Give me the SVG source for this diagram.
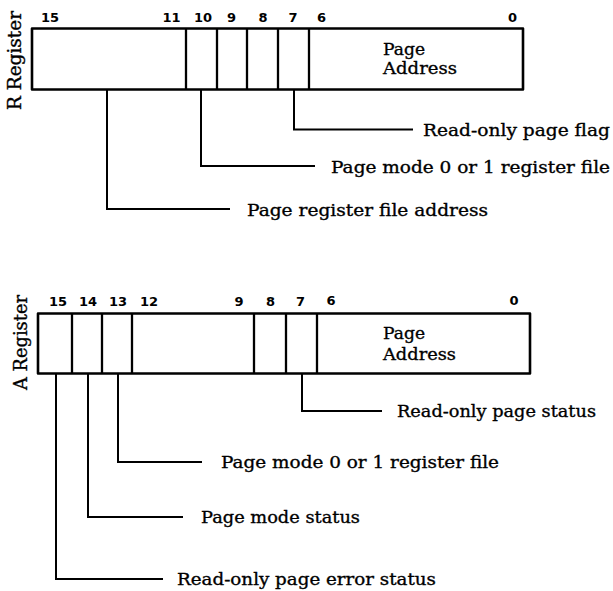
<svg xmlns="http://www.w3.org/2000/svg" width="613" height="591" viewBox="0 0 613 591">
<style>
.box{fill:none;stroke:#000;stroke-width:2.6;stroke-linejoin:round}
.dv{stroke:#000;stroke-width:2.3}
.conn{fill:none;stroke:#000;stroke-width:2}
.bit{font-family:"DejaVu Sans","Liberation Sans",sans-serif;font-weight:bold;font-size:13px;text-anchor:middle;fill:#000}
.lbl{font-family:"DejaVu Serif","Liberation Serif",serif;font-size:17.5px;fill:#000;stroke:#000;stroke-width:0.35}
.ttl{font-family:"DejaVu Serif","Liberation Serif",serif;font-size:18px;fill:#000;stroke:#000;stroke-width:0.35}
</style>
<rect width="613" height="591" fill="#fff"/>
<g id="r-register">
<text class="ttl" transform="translate(20.5,110) rotate(-90)" textLength="99" lengthAdjust="spacingAndGlyphs">R Register</text>
<rect class="box" x="32" y="28.5" width="491" height="61"/>
<path class="dv" d="M186,28.5V89.5M217,28.5V89.5M247,28.5V89.5M278,28.5V89.5M309,28.5V89.5"/>
<text class="bit" x="50" y="22">15</text>
<text class="bit" x="171.5" y="22">11</text>
<text class="bit" x="203" y="22">10</text>
<text class="bit" x="231.5" y="22">9</text>
<text class="bit" x="263" y="22">8</text>
<text class="bit" x="293" y="22">7</text>
<text class="bit" x="321.5" y="22">6</text>
<text class="bit" x="512.5" y="22">0</text>
<text class="lbl" x="383" y="55" textLength="42" lengthAdjust="spacingAndGlyphs">Page</text>
<text class="lbl" x="383" y="74" textLength="74" lengthAdjust="spacingAndGlyphs">Address</text>
</g>
<g id="a-register">
<text class="ttl" transform="translate(27,390) rotate(-90)" textLength="95" lengthAdjust="spacingAndGlyphs">A Register</text>
<rect class="box" x="38" y="313.5" width="492" height="60"/>
<path class="dv" d="M72,313.5V373.5M102,313.5V373.5M132,313.5V373.5M254,313.5V373.5M286,313.5V373.5M317,313.5V373.5"/>
<text class="bit" x="58" y="306">15</text>
<text class="bit" x="88" y="306">14</text>
<text class="bit" x="118" y="306">13</text>
<text class="bit" x="149" y="306">12</text>
<text class="bit" x="239" y="306">9</text>
<text class="bit" x="270.5" y="306">8</text>
<text class="bit" x="300.5" y="306">7</text>
<text class="bit" x="331" y="305">6</text>
<text class="bit" x="514" y="304.5">0</text>
<text class="lbl" x="383" y="339" textLength="42" lengthAdjust="spacingAndGlyphs">Page</text>
<text class="lbl" x="383" y="360" textLength="73" lengthAdjust="spacingAndGlyphs">Address</text>
</g>
<g id="connectors">
<path class="conn" d="M107,89.5V209H230"/>
<path class="conn" d="M201,89.5V166H315"/>
<path class="conn" d="M294,89.5V129.5H413"/>
<path class="conn" d="M56,373.5V579H163"/>
<path class="conn" d="M88,373.5V517H183"/>
<path class="conn" d="M118,373.5V462H202"/>
<path class="conn" d="M302,373.5V411H382"/>
</g>
<g id="label-page-register-file-address"><text class="lbl" x="247" y="216" textLength="241" lengthAdjust="spacingAndGlyphs">Page register file address</text></g>
<g id="label-r-page-mode"><text class="lbl" x="331" y="172.5" textLength="279" lengthAdjust="spacingAndGlyphs">Page mode 0 or 1 register file</text></g>
<g id="label-read-only-page-flag"><text class="lbl" x="423" y="136" textLength="187" lengthAdjust="spacingAndGlyphs">Read-only page flag</text></g>
<g id="label-read-only-page-status"><text class="lbl" x="397" y="417" textLength="199" lengthAdjust="spacingAndGlyphs">Read-only page status</text></g>
<g id="label-a-page-mode"><text class="lbl" x="221" y="468" textLength="278" lengthAdjust="spacingAndGlyphs">Page mode 0 or 1 register file</text></g>
<g id="label-page-mode-status"><text class="lbl" x="201" y="523" textLength="159" lengthAdjust="spacingAndGlyphs">Page mode status</text></g>
<g id="label-read-only-page-error-status"><text class="lbl" x="177" y="585" textLength="259" lengthAdjust="spacingAndGlyphs">Read-only page error status</text></g>
</svg>
